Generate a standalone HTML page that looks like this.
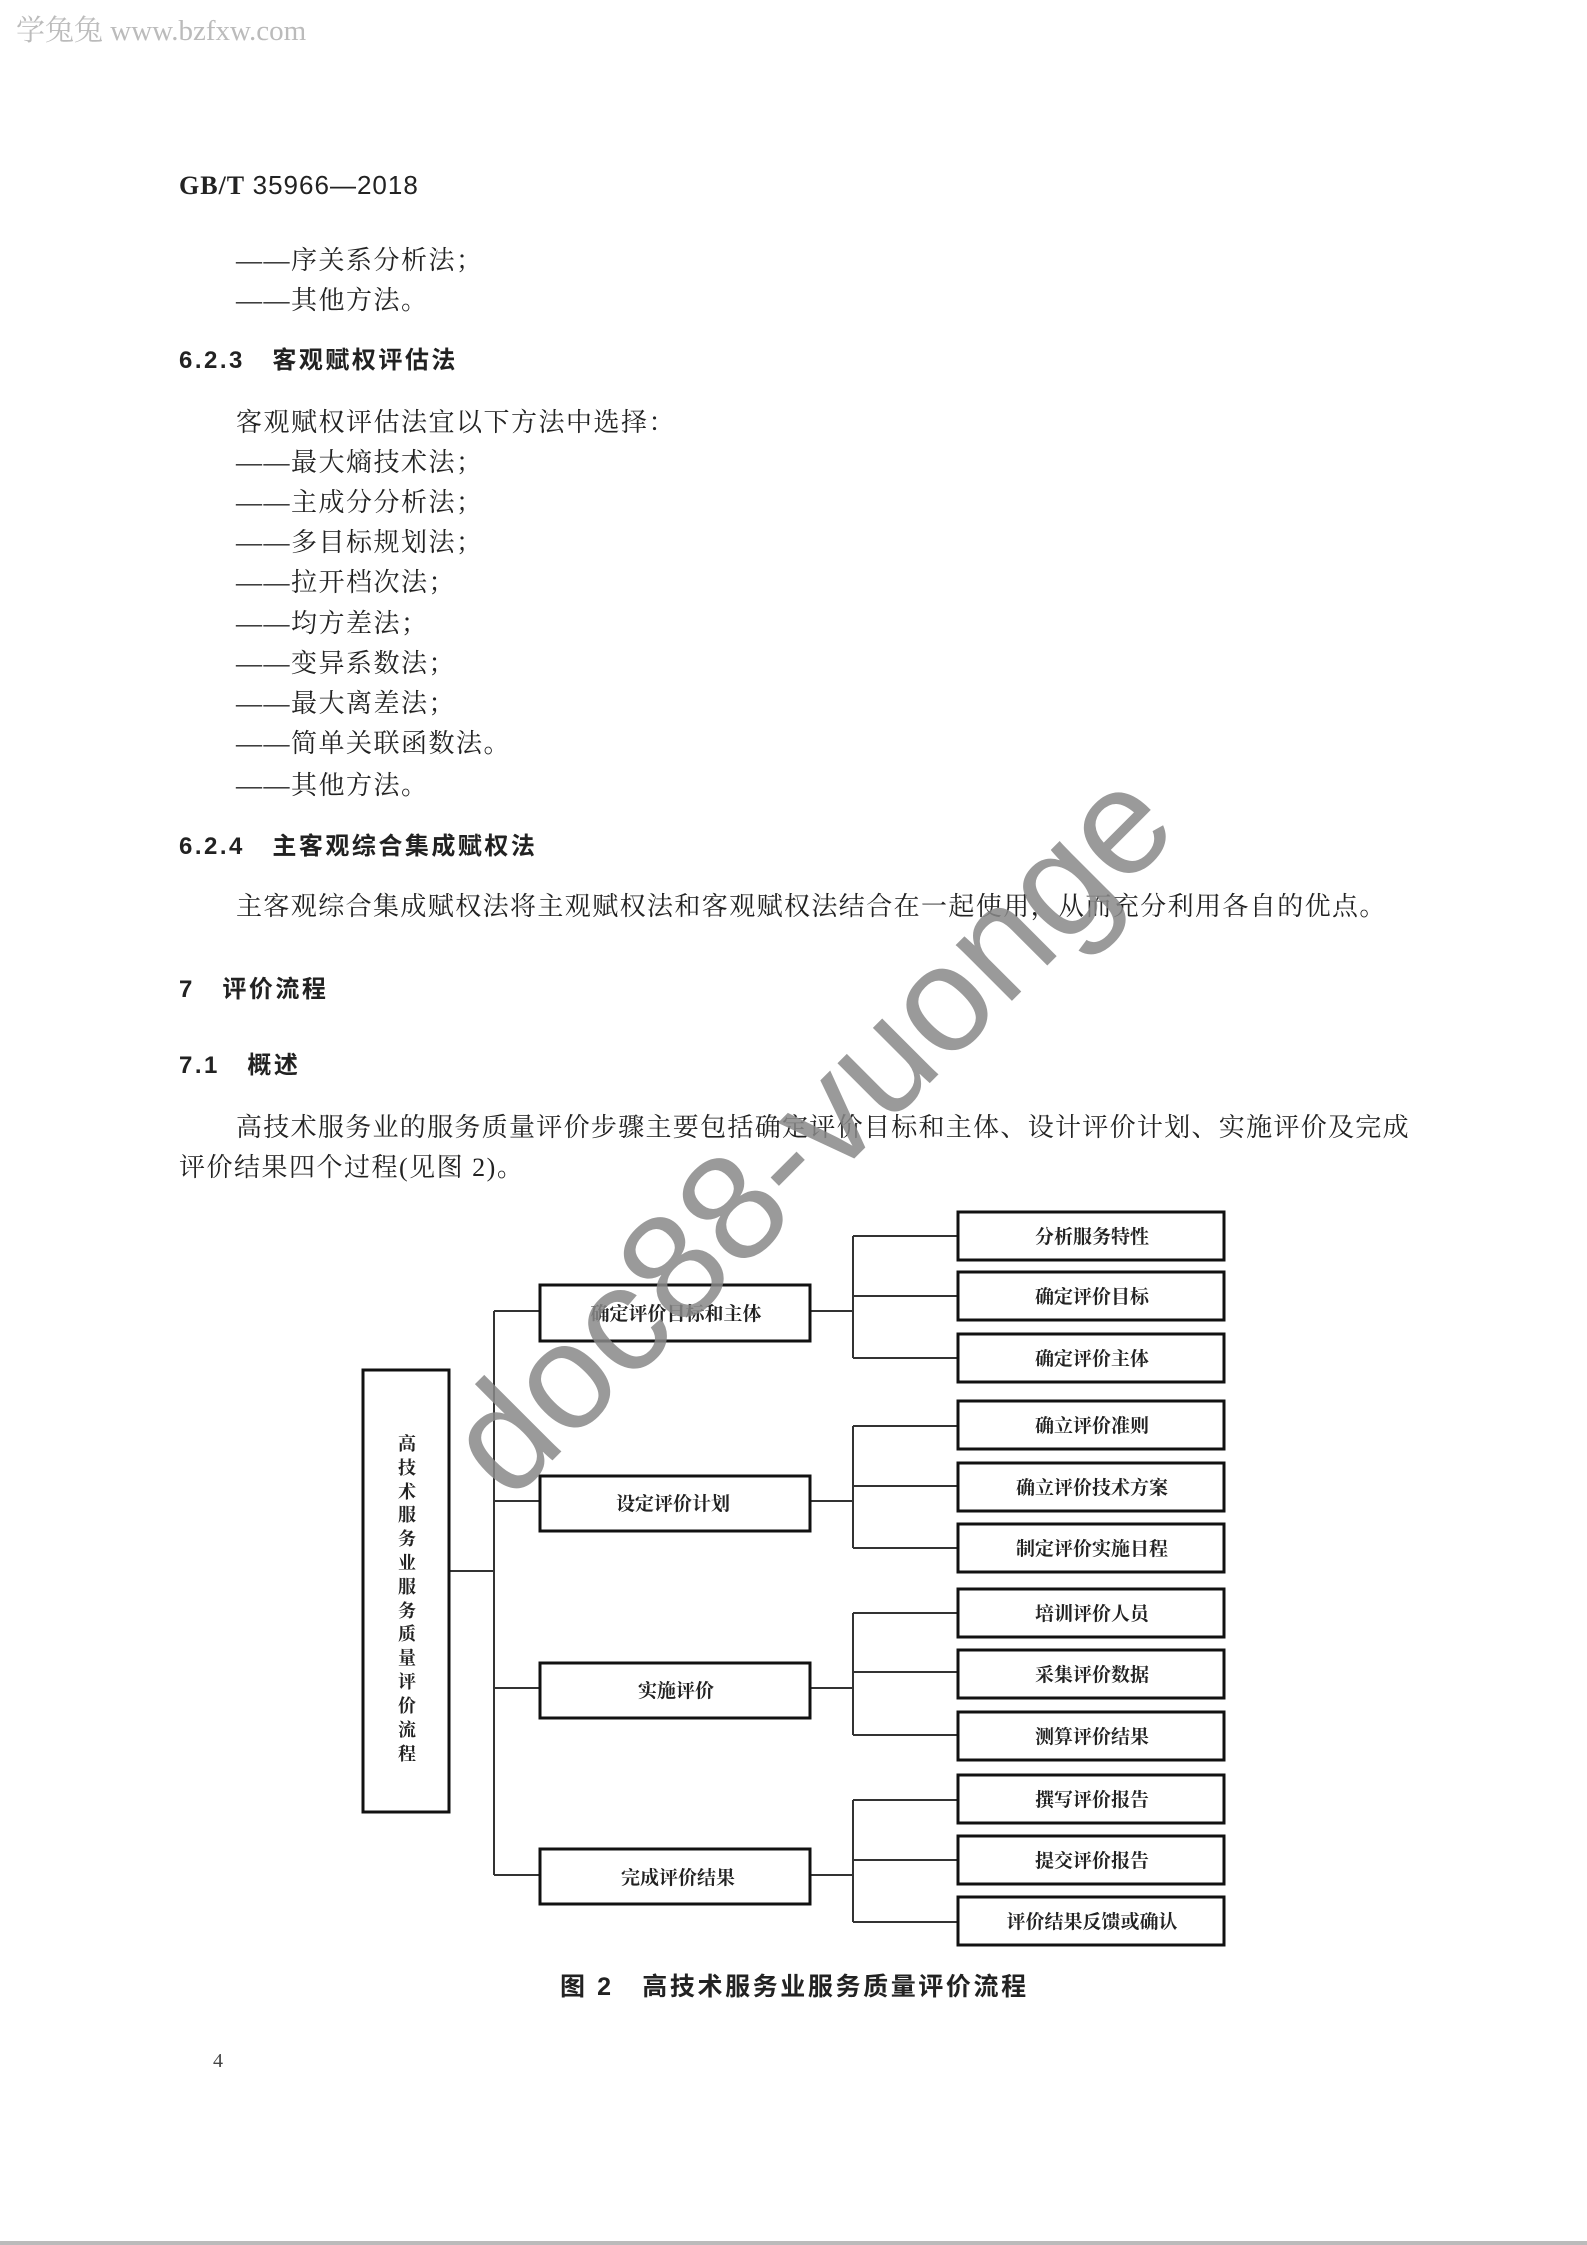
<!DOCTYPE html>
<html><head><meta charset="utf-8"><style>
html,body{margin:0;padding:0;background:#fff;}
body{width:1587px;height:2245px;position:relative;overflow:hidden;}
.t{position:absolute;white-space:nowrap;font-family:"Liberation Serif","Noto Serif CJK SC",serif;font-size:26px;line-height:28px;color:#222;letter-spacing:1.5px;}
.h{font-family:"Liberation Sans","Noto Sans CJK SC",sans-serif;font-weight:bold;font-size:24px;letter-spacing:2.5px;}
</style></head><body>
<div class="t" style="left:16px;top:14px;font-size:29px;line-height:34px;color:#bbb;letter-spacing:0;">学兔兔 www.bzfxw.com</div>
<div class="t" style="left:179px;top:171px;font-size:26px;font-weight:bold;letter-spacing:1px;"><span style="font-family:'Liberation Serif',serif">GB/T</span> <span style="font-family:'Liberation Sans',sans-serif;font-weight:normal">35966—2018</span></div>
<div class="t" style="left:236px;top:247px;">——序关系分析法；</div>
<div class="t" style="left:236px;top:287px;">——其他方法。</div>
<div class="t h" style="left:179px;top:347px;">6.2.3&nbsp;&nbsp;&nbsp;客观赋权评估法</div>
<div class="t" style="left:236px;top:409px;">客观赋权评估法宜以下方法中选择：</div>
<div class="t" style="left:236px;top:449px;">——最大熵技术法；</div>
<div class="t" style="left:236px;top:489px;">——主成分分析法；</div>
<div class="t" style="left:236px;top:529px;">——多目标规划法；</div>
<div class="t" style="left:236px;top:569px;">——拉开档次法；</div>
<div class="t" style="left:236px;top:610px;">——均方差法；</div>
<div class="t" style="left:236px;top:650px;">——变异系数法；</div>
<div class="t" style="left:236px;top:690px;">——最大离差法；</div>
<div class="t" style="left:236px;top:730px;">——简单关联函数法。</div>
<div class="t" style="left:236px;top:772px;">——其他方法。</div>
<div class="t h" style="left:179px;top:833px;">6.2.4&nbsp;&nbsp;&nbsp;主客观综合集成赋权法</div>
<div class="t" style="left:236px;top:893px;letter-spacing:1.4px;">主客观综合集成赋权法将主观赋权法和客观赋权法结合在一起使用，从而充分利用各自的优点。</div>
<div class="t h" style="left:179px;top:976px;">7&nbsp;&nbsp;&nbsp;评价流程</div>
<div class="t h" style="left:179px;top:1052px;">7.1&nbsp;&nbsp;&nbsp;概述</div>
<div class="t" style="left:236px;top:1114px;letter-spacing:1.3px;">高技术服务业的服务质量评价步骤主要包括确定评价目标和主体、设计评价计划、实施评价及完成</div>
<div class="t" style="left:179px;top:1154px;">评价结果四个过程(见图 2)。</div>

<svg style="position:absolute;left:0;top:0" width="1587" height="2245" xmlns="http://www.w3.org/2000/svg">
<g stroke="#333" stroke-width="2" fill="none">
<line x1="450" y1="1571" x2="494" y2="1571"/>
<line x1="494" y1="1311" x2="494" y2="1875"/>
<line x1="494" y1="1311" x2="540" y2="1311"/>
<line x1="494" y1="1501" x2="540" y2="1501"/>
<line x1="494" y1="1688" x2="540" y2="1688"/>
<line x1="494" y1="1875" x2="540" y2="1875"/>
<line x1="810" y1="1311" x2="853" y2="1311"/><line x1="853" y1="1236" x2="853" y2="1358"/>
<line x1="853" y1="1236" x2="958" y2="1236"/><line x1="853" y1="1296" x2="958" y2="1296"/><line x1="853" y1="1358" x2="958" y2="1358"/>
<line x1="810" y1="1501" x2="853" y2="1501"/><line x1="853" y1="1426" x2="853" y2="1548"/>
<line x1="853" y1="1426" x2="958" y2="1426"/><line x1="853" y1="1486" x2="958" y2="1486"/><line x1="853" y1="1548" x2="958" y2="1548"/>
<line x1="810" y1="1688" x2="853" y2="1688"/><line x1="853" y1="1613" x2="853" y2="1735"/>
<line x1="853" y1="1613" x2="958" y2="1613"/><line x1="853" y1="1672" x2="958" y2="1672"/><line x1="853" y1="1735" x2="958" y2="1735"/>
<line x1="810" y1="1875" x2="853" y2="1875"/><line x1="853" y1="1800" x2="853" y2="1922"/>
<line x1="853" y1="1800" x2="958" y2="1800"/><line x1="853" y1="1860" x2="958" y2="1860"/><line x1="853" y1="1922" x2="958" y2="1922"/>
</g>
<g stroke="#111" stroke-width="3" fill="#fff">
<rect x="363" y="1370" width="86" height="442"/>
<rect x="540" y="1285" width="270" height="56"/>
<rect x="540" y="1476" width="270" height="55"/>
<rect x="540" y="1663" width="270" height="55"/>
<rect x="540" y="1849" width="270" height="55"/>
<rect x="958" y="1212" width="266" height="48"/>
<rect x="958" y="1272" width="266" height="48"/>
<rect x="958" y="1334" width="266" height="48"/>
<rect x="958" y="1401" width="266" height="48"/>
<rect x="958" y="1463" width="266" height="48"/>
<rect x="958" y="1524" width="266" height="48"/>
<rect x="958" y="1589" width="266" height="48"/>
<rect x="958" y="1650" width="266" height="48"/>
<rect x="958" y="1712" width="266" height="48"/>
<rect x="958" y="1775" width="266" height="48"/>
<rect x="958" y="1836" width="266" height="48"/>
<rect x="958" y="1897" width="266" height="48"/>
</g>
<g font-family="'Liberation Serif','Noto Serif CJK SC',serif" font-weight="bold" font-size="19" fill="#222" text-anchor="middle">
<text x="676" y="1320">确定评价目标和主体</text>
<text x="673" y="1510">设定评价计划</text>
<text x="676" y="1697">实施评价</text>
<text x="678" y="1884">完成评价结果</text>
<text x="1092" y="1243">分析服务特性</text>
<text x="1092" y="1303">确定评价目标</text>
<text x="1092" y="1365">确定评价主体</text>
<text x="1092" y="1432">确立评价准则</text>
<text x="1092" y="1494">确立评价技术方案</text>
<text x="1092" y="1555">制定评价实施日程</text>
<text x="1092" y="1620">培训评价人员</text>
<text x="1092" y="1681">采集评价数据</text>
<text x="1092" y="1743">测算评价结果</text>
<text x="1092" y="1806">撰写评价报告</text>
<text x="1092" y="1867">提交评价报告</text>
<text x="1092" y="1928">评价结果反馈或确认</text>
<g font-size="18">
<text x="407" y="1450">高</text><text x="407" y="1474">技</text><text x="407" y="1498">术</text><text x="407" y="1521">服</text><text x="407" y="1545">务</text><text x="407" y="1569">业</text><text x="407" y="1593">服</text><text x="407" y="1617">务</text><text x="407" y="1640">质</text><text x="407" y="1664">量</text><text x="407" y="1688">评</text><text x="407" y="1712">价</text><text x="407" y="1736">流</text><text x="407" y="1760">程</text>
</g>
</g>
<text x="815" y="1180" font-family="'Liberation Sans',sans-serif" font-size="150" fill="#888" fill-opacity="0.85" text-anchor="middle" transform="rotate(-45 815 1137)">doc88-vuonge</text>
</svg>
<div class="t h" style="left:560px;top:1973px;font-size:25px;letter-spacing:2.6px;font-weight:bold;">图 2&nbsp;&nbsp;&nbsp;高技术服务业服务质量评价流程</div>
<div class="t" style="left:213px;top:2047px;font-size:20px;color:#444;">4</div>
<div style="position:absolute;left:0;top:2241px;width:1587px;height:4px;background:#bbb;"></div>
</body></html>
